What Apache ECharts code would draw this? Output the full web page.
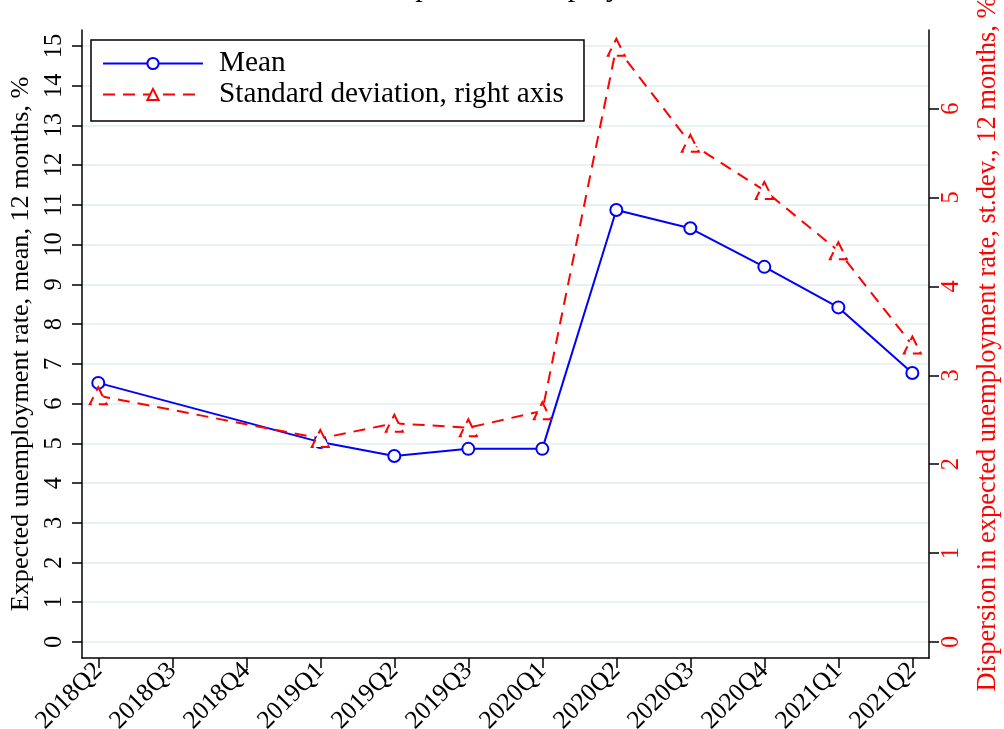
<!DOCTYPE html>
<html>
<head>
<meta charset="utf-8">
<title>Expected unemployment</title>
<script src="https://cdn.jsdelivr.net/npm/echarts@6/dist/echarts.min.js"></script>
<style>
html, body { margin: 0; padding: 0; background: #fff; }
#chart { width: 1004px; height: 729px; }
</style>
</head>
<body>
<div id="chart"></div>
<script>
// quarters on the x axis (2019Q4 is not in the survey)
var quarters = ['2018Q2', '2018Q3', '2018Q4', '2019Q1', '2019Q2', '2019Q3',
    '2020Q1', '2020Q2', '2020Q3', '2020Q4', '2021Q1', '2021Q2'];
// mean expected unemployment rate, %, left axis
var meanRate = [6.52, null, null, 5.03, 4.68, 4.86, 4.86, 10.87, 10.41, 9.44, 8.42, 6.77];
// standard deviation, right axis
var stdDev = [2.77, null, null, 2.29, 2.46, 2.41, 2.60, 6.69, 5.61, 5.08, 4.40, 3.34];
var leftTicks = [0, 1, 2, 3, 4, 5, 6, 7, 8, 9, 10, 11, 12, 13, 14, 15];
var rightTicks = [0, 1, 2, 3, 4, 5, 6];

var FONT = "'Liberation Serif', 'Times New Roman', serif";
var BLUE = '#0000ff';
var RED = '#ff0000';

function toPairs(values) {
    var pairs = [];
    values.forEach(function(v, i) {
        if (v !== null) pairs.push([i, v]);
    });
    return pairs;
}

function axisLine() {
    return { show: true, onZero: false, lineStyle: { color: '#000', width: 1.5 } };
}

function getXAxis() {
    var idx = quarters.map(function(q, i) { return i; });
    return {
        type: 'value',
        min: -0.22,
        max: 11.225,
        axisLine: axisLine(),
        axisTick: { show: true, length: 10, customValues: idx, lineStyle: { color: '#000', width: 1.5 } },
        axisLabel: {
            customValues: idx,
            rotate: 45,
            margin: 9,
            color: '#000',
            fontSize: 25.5,
            fontFamily: FONT,
            formatter: function(v) {
                return quarters[Math.round(v)] || '';
            }
        },
        splitLine: { show: false }
    };
}

function getYAxes() {
    return [
        {
            type: 'value',
            position: 'left',
            min: -0.403,
            max: 15.4,
            name: 'Expected unemployment rate, mean, 12 months, %',
            nameLocation: 'middle',
            nameRotate: 90,
            nameGap: 43,
            nameTextStyle: { color: '#000', fontSize: 26.2, fontFamily: FONT },
            axisLine: axisLine(),
            axisTick: { show: true, length: 10, customValues: leftTicks, lineStyle: { color: '#000', width: 1.5 } },
            axisLabel: { customValues: leftTicks, rotate: 90, margin: 15, color: '#000', fontSize: 24.5, fontFamily: FONT },
            splitLine: { show: true, lineStyle: { color: '#e2ecef', width: 1.5 } }
        },
        {
            type: 'value',
            position: 'right',
            min: -0.18,
            max: 6.884,
            name: 'Dispersion in expected unemployment rate, st.dev., 12 months, %',
            nameLocation: 'middle',
            nameRotate: 90,
            nameGap: 46,
            nameTextStyle: { color: RED, fontSize: 26.5, fontFamily: FONT },
            axisLine: axisLine(),
            axisTick: { show: true, length: 10, customValues: rightTicks, lineStyle: { color: '#000', width: 1.5 } },
            axisLabel: { customValues: rightTicks, rotate: 90, margin: 10, color: RED, fontSize: 24.5, fontFamily: FONT },
            splitLine: { show: false }
        }
    ];
}

function getSeries() {
    return [
        {
            name: 'Mean',
            type: 'line',
            yAxisIndex: 0,
            data: toPairs(meanRate),
            symbol: 'emptyCircle',
            symbolSize: 12,
            lineStyle: { color: BLUE, width: 2 },
            itemStyle: { color: BLUE, borderColor: BLUE, borderWidth: 2 }
        },
        {
            name: 'Standard deviation, right axis',
            type: 'line',
            yAxisIndex: 1,
            data: toPairs(stdDev),
            symbol: 'emptyTriangle',
            symbolSize: 17,
            lineStyle: { color: RED, width: 2, type: [12, 8] },
            itemStyle: { color: RED, borderColor: RED, borderWidth: 2, borderType: [10, 7] }
        }
    ];
}

var chart = echarts.init(document.getElementById('chart'));
chart.setOption({
    animation: false,
    backgroundColor: '#fff',
    title: {
        text: 'Expected unemployment',
        left: 377,
        top: -32,
        textStyle: { color: '#000', fontSize: 30, fontWeight: 'normal', fontFamily: FONT }
    },
    legend: {
        orient: 'vertical',
        left: 91,
        top: 40,
        padding: [9, 20, 12, 11],
        itemGap: 2,
        itemWidth: 100,
        itemHeight: 14,
        backgroundColor: '#fff',
        borderColor: '#000',
        borderWidth: 1.5,
        textStyle: { color: '#000', fontSize: 29.3, fontFamily: FONT, padding: [0, 0, 0, 11] },
        data: ['Mean', 'Standard deviation, right axis']
    },
    grid: { left: 82, right: 75, top: 30, bottom: 71, containLabel: false, outerBoundsMode: 'none' },
    xAxis: getXAxis(),
    yAxis: getYAxes(),
    series: getSeries()
});
</script>
</body>
</html>
